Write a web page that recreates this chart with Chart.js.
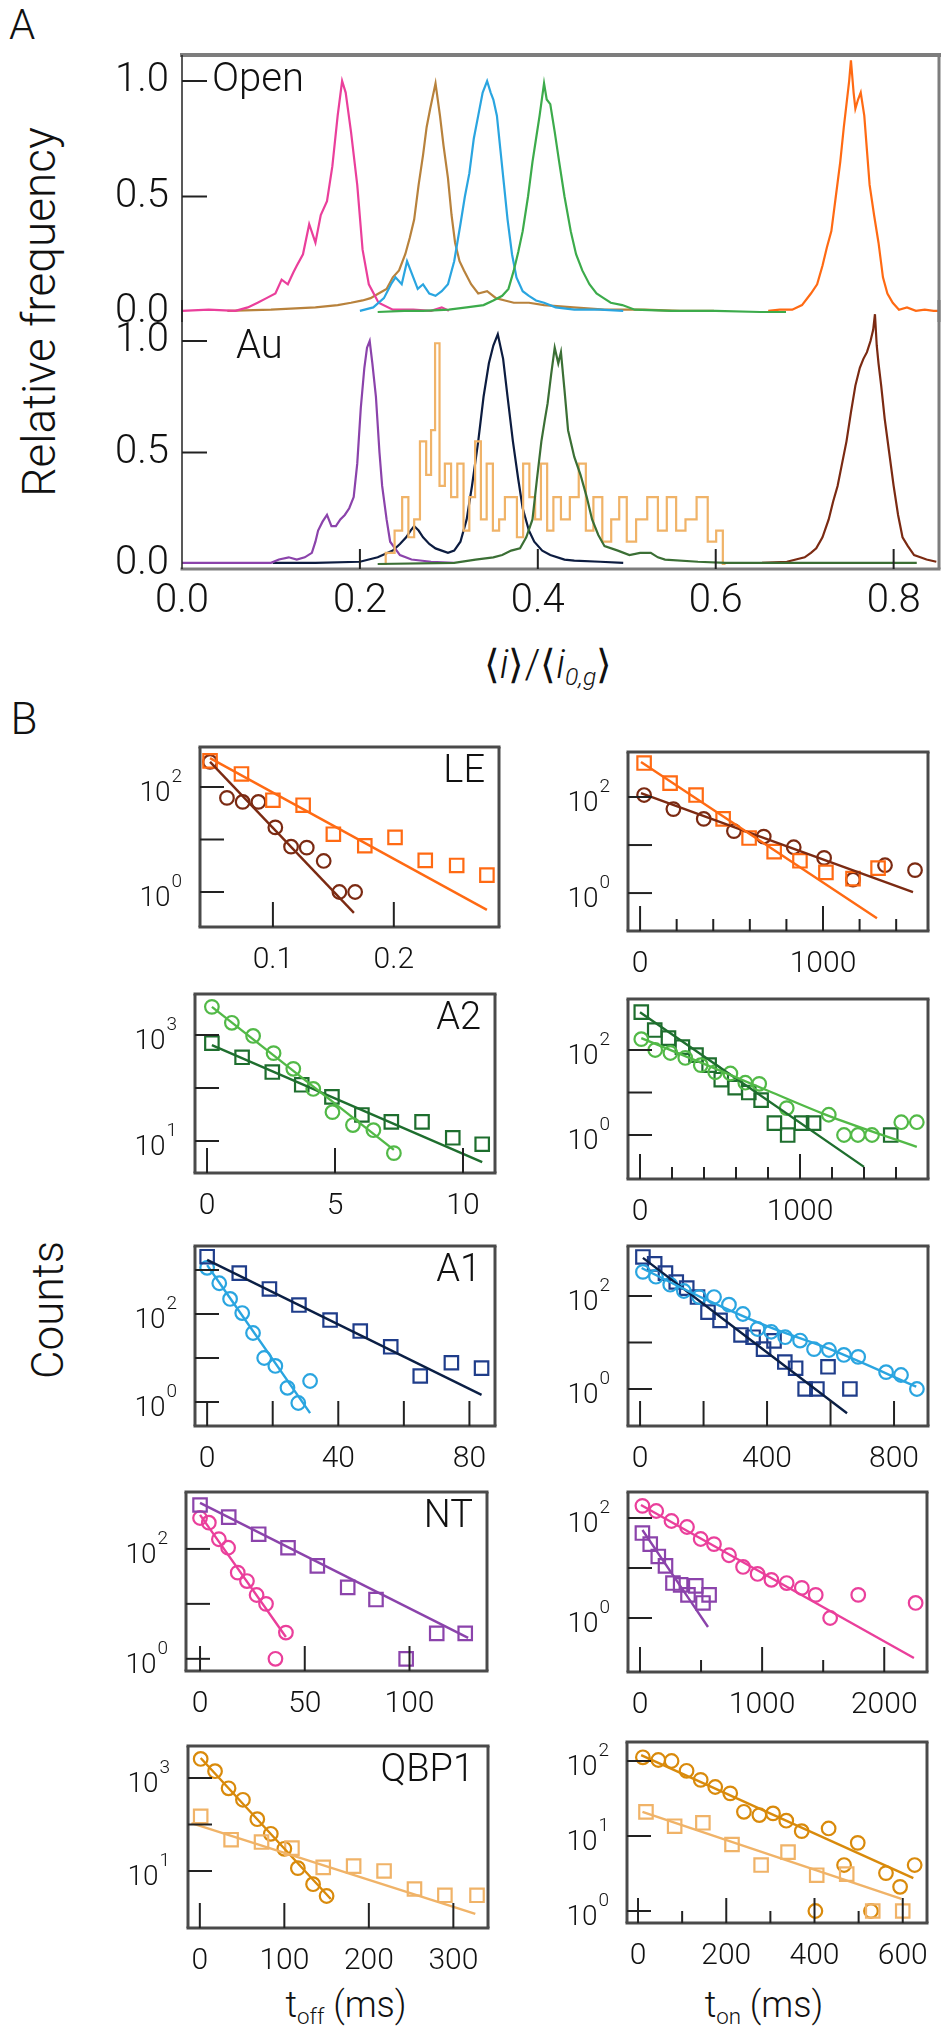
<!DOCTYPE html>
<html>
<head>
<meta charset="utf-8">
<title>Relative frequency and dwell-time histograms</title>
<script src="https://cdn.jsdelivr.net/npm/chart.js@4.4.1/dist/chart.umd.min.js"></script>
<style>
  html, body { margin: 0; padding: 0; background: #fff; }
  body { position: relative; width: 949px; height: 2040px; overflow: hidden;
         font-family: Roboto, "Liberation Sans", "DejaVu Sans", sans-serif; font-weight: 300; color: #111; }
  canvas { position: absolute; }
  .t { position: absolute; white-space: nowrap; line-height: 1; transform: translate(-50%, -50%); }
  .rot { transform: translate(-50%, -50%) rotate(-90deg); }
  sub { font-size: 62%; vertical-align: -0.3em; line-height: 0; }
  i { font-style: italic; }
</style>
</head>
<body>
<div class="t" style="left:22px;top:25px;font-size:42px">A</div>
<div class="t" style="left:24px;top:719px;font-size:44px">B</div>
<div class="t rot" style="left:39px;top:312px;font-size:46px">Relative frequency</div>
<div class="t rot" style="left:48px;top:1310px;font-size:44px">Counts</div>
<div class="t" style="left:548px;top:665px;font-size:40px">⟨<i>i</i>⟩/⟨<i>i</i><sub><i>0,g</i></sub>⟩</div>
<div class="t" style="left:346px;top:2005px;font-size:36px">t<sub>off</sub> (ms)</div>
<div class="t" style="left:764px;top:2005px;font-size:36px">t<sub>on</sub> (ms)</div>
<script>
// ---------- panel A : histograms, open pore (top) and with Au (bottom)
const openPinkX = [0, 0.03, 0.06, 0.074, 0.085, 0.095, 0.105, 0.112, 0.119, 0.125, 0.129, 0.136, 0.143, 0.150, 0.156, 0.163, 0.169, 0.175, 0.180, 0.184, 0.190, 0.197, 0.203, 0.210, 0.221, 0.237, 0.26, 0.28, 0.292, 0.30];
const openPinkY = [0.005, 0.01, 0.005, 0.02, 0.04, 0.06, 0.08, 0.14, 0.12, 0.17, 0.20, 0.25, 0.38, 0.30, 0.42, 0.48, 0.63, 0.85, 1.0, 0.95, 0.78, 0.55, 0.27, 0.12, 0.04, 0.01, 0.01, 0.005, 0.02, 0.005];
const openTanX = [0.051, 0.1, 0.15, 0.175, 0.19, 0.203, 0.212, 0.221, 0.23, 0.237, 0.244, 0.251, 0.256, 0.261, 0.266, 0.271, 0.275, 0.279, 0.285, 0.290, 0.294, 0.299, 0.303, 0.307, 0.312, 0.317, 0.325, 0.333, 0.343, 0.353, 0.363, 0.373, 0.39, 0.407, 0.44, 0.475, 0.52, 0.56, 0.598];
const openTanY = [0.005, 0.01, 0.02, 0.03, 0.04, 0.05, 0.06, 0.08, 0.1, 0.15, 0.18, 0.25, 0.32, 0.40, 0.55, 0.68, 0.8, 0.88, 0.99, 0.85, 0.72, 0.58, 0.42, 0.30, 0.22, 0.18, 0.12, 0.08, 0.09, 0.06, 0.05, 0.04, 0.04, 0.03, 0.02, 0.01, 0.01, 0.005, 0.005];
const openBlueX = [0.2, 0.215, 0.227, 0.235, 0.240, 0.247, 0.253, 0.26, 0.265, 0.271, 0.278, 0.285, 0.292, 0.299, 0.306, 0.313, 0.318, 0.323, 0.328, 0.333, 0.338, 0.343, 0.347, 0.350, 0.354, 0.358, 0.362, 0.366, 0.371, 0.376, 0.383, 0.390, 0.398, 0.407, 0.42, 0.441, 0.47, 0.496];
const openBlueY = [0.005, 0.02, 0.06, 0.12, 0.15, 0.12, 0.22, 0.15, 0.1, 0.12, 0.08, 0.07, 0.09, 0.12, 0.22, 0.38, 0.5, 0.60, 0.75, 0.85, 0.95, 1.0, 0.95, 0.92, 0.85, 0.70, 0.55, 0.40, 0.25, 0.15, 0.09, 0.07, 0.05, 0.04, 0.02, 0.01, 0.01, 0.005];
const openGreenX = [0.22, 0.25, 0.271, 0.3, 0.32, 0.339, 0.35, 0.360, 0.367, 0.373, 0.378, 0.383, 0.389, 0.394, 0.398, 0.402, 0.407, 0.410, 0.414, 0.419, 0.424, 0.430, 0.437, 0.443, 0.450, 0.458, 0.466, 0.474, 0.482, 0.495, 0.509, 0.55, 0.6, 0.65, 0.679];
const openGreenY = [0.0, 0.005, 0.005, 0.01, 0.02, 0.03, 0.05, 0.07, 0.1, 0.18, 0.26, 0.35, 0.5, 0.65, 0.75, 0.85, 0.99, 0.92, 0.90, 0.78, 0.65, 0.5, 0.35, 0.25, 0.18, 0.12, 0.08, 0.06, 0.04, 0.03, 0.01, 0.005, 0.005, 0.0, 0.0];
const openOrangeX = [0.659, 0.672, 0.686, 0.697, 0.707, 0.714, 0.720, 0.725, 0.730, 0.735, 0.740, 0.744, 0.747, 0.750, 0.752, 0.755, 0.757, 0.760, 0.763, 0.767, 0.770, 0.773, 0.778, 0.783, 0.788, 0.793, 0.799, 0.806, 0.815, 0.825, 0.835, 0.845, 0.852];
const openOrangeY = [0.005, 0.01, 0.01, 0.03, 0.08, 0.12, 0.2, 0.28, 0.35, 0.5, 0.65, 0.8, 0.9, 1.0, 1.09, 0.95, 0.88, 0.92, 0.95, 0.85, 0.7, 0.55, 0.42, 0.3, 0.15, 0.08, 0.04, 0.01, 0.02, 0.005, 0.01, 0.005, 0.005];

const auPurpleX = [0.0, 0.05, 0.1, 0.109, 0.12, 0.129, 0.138, 0.146, 0.150, 0.153, 0.158, 0.163, 0.168, 0.173, 0.178, 0.183, 0.188, 0.193, 0.197, 0.201, 0.205, 0.208, 0.211, 0.214, 0.218, 0.222, 0.225, 0.230, 0.234, 0.245, 0.258, 0.28, 0.306];
const auPurpleY = [0.005, 0.005, 0.005, 0.02, 0.03, 0.02, 0.03, 0.05, 0.10, 0.15, 0.19, 0.22, 0.17, 0.17, 0.20, 0.22, 0.25, 0.30, 0.45, 0.70, 0.88, 0.97, 1.0, 0.9, 0.75, 0.5, 0.35, 0.2, 0.1, 0.04, 0.02, 0.01, 0.005];
const auNavyX = [0.102, 0.15, 0.2, 0.22, 0.237, 0.245, 0.252, 0.257, 0.261, 0.266, 0.271, 0.278, 0.285, 0.292, 0.299, 0.306, 0.313, 0.320, 0.326, 0.333, 0.339, 0.345, 0.350, 0.355, 0.361, 0.366, 0.372, 0.378, 0.383, 0.390, 0.396, 0.405, 0.414, 0.43, 0.441, 0.47, 0.496];
const auNavyY = [0.005, 0.005, 0.01, 0.03, 0.06, 0.09, 0.12, 0.15, 0.17, 0.15, 0.12, 0.09, 0.07, 0.06, 0.05, 0.06, 0.10, 0.2, 0.35, 0.55, 0.75, 0.9, 0.98, 1.03, 0.92, 0.75, 0.55, 0.38, 0.25, 0.15, 0.10, 0.06, 0.04, 0.02, 0.015, 0.01, 0.005];
const auTanX = [0.224, 0.234, 0.244, 0.251, 0.258, 0.264, 0.271, 0.278, 0.282, 0.287, 0.292, 0.299, 0.306, 0.313, 0.320, 0.326, 0.333, 0.339, 0.346, 0.353, 0.360, 0.366, 0.373, 0.380, 0.387, 0.394, 0.400, 0.407, 0.414, 0.421, 0.431, 0.441, 0.451, 0.457, 0.468, 0.477, 0.488, 0.495, 0.505, 0.516, 0.530, 0.540, 0.550, 0.561, 0.571, 0.586, 0.596, 0.605, 0.611];
const auTanY = [0.0, 0.05, 0.15, 0.3, 0.12, 0.2, 0.55, 0.4, 0.6, 0.99, 0.35, 0.45, 0.3, 0.45, 0.15, 0.3, 0.55, 0.2, 0.45, 0.15, 0.2, 0.3, 0.3, 0.12, 0.45, 0.3, 0.2, 0.45, 0.15, 0.3, 0.2, 0.3, 0.45, 0.15, 0.3, 0.1, 0.2, 0.3, 0.1, 0.2, 0.3, 0.15, 0.3, 0.15, 0.2, 0.3, 0.1, 0.15, 0.0];
const auDkGreenX = [0.22, 0.306, 0.33, 0.35, 0.36, 0.37, 0.380, 0.387, 0.394, 0.399, 0.404, 0.408, 0.411, 0.415, 0.419, 0.423, 0.426, 0.430, 0.434, 0.441, 0.448, 0.455, 0.461, 0.468, 0.475, 0.49, 0.503, 0.515, 0.527, 0.535, 0.543, 0.58, 0.611, 0.7, 0.826];
const auDkGreenY = [0.0, 0.005, 0.02, 0.03, 0.04, 0.06, 0.07, 0.12, 0.2, 0.38, 0.55, 0.65, 0.72, 0.85, 0.97, 0.9, 0.95, 0.78, 0.6, 0.48, 0.4, 0.3, 0.2, 0.13, 0.08, 0.06, 0.04, 0.05, 0.05, 0.03, 0.02, 0.01, 0.005, 0.005, 0.005];
const auBrownX = [0.652, 0.68, 0.700, 0.707, 0.713, 0.72, 0.727, 0.732, 0.737, 0.742, 0.747, 0.752, 0.757, 0.762, 0.766, 0.770, 0.774, 0.777, 0.779, 0.781, 0.783, 0.786, 0.790, 0.795, 0.800, 0.805, 0.810, 0.816, 0.823, 0.830, 0.837, 0.848];
const auBrownY = [0.005, 0.01, 0.03, 0.05, 0.07, 0.12, 0.2, 0.28, 0.35, 0.45, 0.55, 0.68, 0.8, 0.88, 0.92, 0.95, 1.0, 1.05, 1.12, 0.98, 0.9, 0.8, 0.65, 0.5, 0.35, 0.22, 0.12, 0.08, 0.04, 0.03, 0.02, 0.01];

const histTicksX = [0, 0.2, 0.4, 0.6, 0.8];
const histTicksY = [0, 0.5, 1];

// ---------- panel B : dwell time histograms (counts, log axis)
// LE
const leOffSqX = [0.048, 0.074, 0.100, 0.125, 0.150, 0.176, 0.201, 0.226, 0.252, 0.277];
const leOffSqY = [314, 177, 56, 45, 12.6, 7.6, 11, 4, 3.2, 2.1];
const leOffCiX = [0.048, 0.062, 0.075, 0.088, 0.102, 0.115, 0.128, 0.142, 0.155, 0.168];
const leOffCiY = [300, 62, 52, 52, 17, 7.3, 7, 3.9, 1, 1];
const leOffSqFitX = [0.048, 0.277], leOffSqFitY = [355, 0.457];
const leOffCiFitX = [0.048, 0.167], leOffCiFitY = [302, 0.40];
const leOnSqX = [22, 164, 306, 454, 596, 733, 874, 1016, 1164, 1301];
const leOnSqY = [510, 195, 110, 35, 14, 7.3, 4.7, 2.7, 2.0, 3.3];
const leOnCiX = [22, 182, 348, 513, 676, 840, 1006, 1164, 1339, 1503];
const leOnCiY = [110, 56, 35, 19.5, 15, 9, 5.4, 1.9, 3.8, 3];
const leOnSqFitX = [5, 1295], leOnSqFitY = [537, 0.30];
const leOnCiFitX = [5, 1492], leOnCiFitY = [120, 1.05];
// A2
const a2OffCiX = [0.19, 0.97, 1.8, 2.6, 3.37, 4.15, 4.9, 5.7, 6.5, 7.3];
const a2OffCiY = [3400, 1700, 960, 455, 230, 96, 35, 20, 16, 5.9];
const a2OffSqX = [0.19, 1.37, 2.55, 3.7, 4.88, 6.05, 7.2, 8.4, 9.6, 10.75];
const a2OffSqY = [700, 380, 200, 115, 68, 31, 23, 23, 11.5, 8.7];
const a2OffCiFitX = [0.19, 7.3], a2OffCiFitY = [3390, 6.8];
const a2OffSqFitX = [0.19, 10.75], a2OffSqFitY = [646, 4.0];
const a2OnSqX = [8, 92, 178, 265, 350, 432, 508, 595, 680, 757, 840, 923, 1010, 1085, 1567];
const a2OnSqY = [780, 295, 190, 117, 76, 44, 20, 13, 10, 6.6, 1.9, 1, 1.9, 1.9, 1];
const a2OnCiX = [8, 95, 190, 283, 380, 470, 565, 658, 745, 917, 1180, 1275, 1362, 1450, 1633, 1730];
const a2OnCiY = [180, 100, 85, 65, 44, 30, 28, 17, 16, 4.3, 3, 1, 1, 1, 2, 2];
const a2OnSqFitX = [0, 1400], a2OnSqFitY = [776, 0.178];
const a2OnCiFitX = [8, 400, 800, 1200, 1730], a2OnCiFitY = [190, 47, 11, 2.63, 0.525];
// A1
const a1OffSqX = [0, 9.8, 19, 28, 37.5, 46.7, 56, 65, 74.5, 83.7];
const a1OffSqY = [2000, 850, 370, 160, 73, 41, 18, 3.9, 7.8, 5.9];
const a1OffCiX = [0, 3.7, 7, 10.7, 14, 17.4, 20.8, 24.5, 27.8, 31.4];
const a1OffCiY = [1120, 500, 220, 105, 37, 10, 6.6, 2.1, 0.95, 3];
const a1OffSqFitX = [0, 83.7], a1OffSqFitY = [1700, 1.45];
const a1OffCiFitX = [0, 31.4], a1OffCiFitY = [1290, 0.56];
const a1OnSqX = [9, 46, 80, 114, 147, 181, 214, 252, 318, 356, 389, 422, 456, 490, 520, 557, 592, 661];
const a1OnSqY = [690, 490, 310, 200, 148, 95, 45, 30, 14.5, 13, 7.2, 10.8, 3.8, 2.8, 1, 1, 3, 1];
const a1OnCiX = [9, 50, 95, 138, 186, 233, 280, 324, 370, 413, 457, 504, 548, 595, 642, 687, 775, 822, 872];
const a1OnCiY = [330, 260, 175, 128, 95, 95, 65, 41, 19.5, 17, 13, 11, 7.2, 6.9, 5.4, 4.9, 2.3, 2, 1];
const a1OnSqFitX = [9, 652], a1OnSqFitY = [660, 0.30];
const a1OnCiFitX = [5, 200, 400, 600, 870], a1OnCiFitY = [400, 89, 22.4, 7.1, 1.12];
// NT
const ntOffSqX = [0, 13.7, 28, 42, 56, 70.5, 84, 98.4, 113, 126.6];
const ntOffSqY = [630, 380, 185, 105, 49, 20, 12, 1, 2.9, 2.9];
const ntOffCiX = [0, 4.2, 9, 13.4, 18, 22.4, 27, 31.5, 36, 41];
const ntOffCiY = [365, 300, 150, 105, 37, 26, 14.5, 10, 1, 3];
const ntOffSqFitX = [0, 128], ntOffSqFitY = [690, 2.4];
const ntOffCiFitX = [0, 41], ntOffCiFitY = [417, 2.5];
const ntOnCiX = [20, 133, 258, 385, 497, 606, 729, 844, 963, 1076, 1201, 1325, 1439, 1557, 1787, 2257];
const ntOnCiY = [175, 138, 87, 66, 38, 30, 18, 10.5, 7.6, 5.8, 5, 4, 2.9, 1, 2.9, 2];
const ntOnSqX = [20, 84, 150, 209, 270, 333, 393, 457, 516, 566];
const ntOnSqY = [50, 30, 17, 11, 5, 4.6, 2.9, 4.4, 2, 2.9];
const ntOnCiFitX = [8, 2243], ntOnCiFitY = [182, 0.158];
const ntOnSqFitX = [20, 557], ntOnSqFitY = [57.5, 0.66];
// QBP1
const qbOffCiX = [1, 18, 34, 51, 68, 84, 100, 116, 134, 150];
const qbOffCiY = [2570, 1400, 600, 340, 130, 63, 30, 11.5, 5.2, 2.9];
const qbOffSqX = [1, 37, 73, 109, 146, 182, 218, 254, 290, 328];
const qbOffSqY = [150, 47, 42, 31, 12, 12.7, 10, 4.1, 3, 3];
const qbOffCiFitX = [1, 155], qbOffCiFitY = [2690, 2.5];
const qbOffSqFitX = [-10, 326], qbOffSqFitY = [107, 1.2];
const qbOnCiX = [11, 46, 76, 110, 142, 175, 209, 240, 275, 306, 336, 371, 402, 432, 467, 498, 528, 562, 594, 627];
const qbOnCiY = [112, 103, 100, 74, 56, 45, 37, 21, 19, 20, 16, 11.6, 1, 12.6, 4.1, 8.1, 1, 3.2, 2.1, 4.1];
const qbOnSqX = [18, 83, 147, 213, 279, 340, 405, 473, 532, 600];
const qbOnSqY = [21, 13.5, 15, 7.7, 4.1, 6.1, 3.0, 3.1, 1, 1];
const qbOnCiFitX = [7, 624], qbOnCiFitY = [120, 2.75];
const qbOnSqFitX = [10, 597], qbOnSqFitY = [21, 1.45];

const col = {
  pink: '#ea3f9b', tan: '#b8823c', sky: '#2aa5e0', green: '#3cab4b', orange: '#ff6a13',
  purple: '#8b43ab', navy: '#0c1c40', peach: '#f0b368', dkgreen: '#3b6f35', brown: '#7b2a12',
  ltgreen: '#52b947', forest: '#1e6e2e', blueSq: '#1f3d8a', blueLine: '#0b1f45',
  amber: '#d98a0b'
};

Chart.defaults.font.family = "Roboto, 'Liberation Sans', sans-serif";
Chart.defaults.font.weight = '300';
Chart.defaults.color = '#111';

// frame, inward ticks, 10^n labels and small captions
Chart.register({
  id: 'decor',
  afterDraw(chart, args, o) {
    if (!o || !o.on) return;
    const ctx = chart.ctx, a = chart.chartArea;
    const xs = chart.scales.x, ys = chart.scales.y;
    ctx.save();
    (o.sides || []).forEach(s => {
      ctx.strokeStyle = s.c; ctx.lineWidth = s.w;
      ctx.beginPath();
      if (s.s == 'top') { ctx.moveTo(a.left - s.w / 2, a.top); ctx.lineTo(a.right + s.w / 2, a.top); }
      if (s.s == 'bottom') { ctx.moveTo(a.left - s.w / 2, a.bottom); ctx.lineTo(a.right + s.w / 2, a.bottom); }
      if (s.s == 'left') { ctx.moveTo(a.left, a.top); ctx.lineTo(a.left, a.bottom); }
      if (s.s == 'right') { ctx.moveTo(a.right, a.top); ctx.lineTo(a.right, a.bottom); }
      ctx.stroke();
    });
    ctx.strokeStyle = '#222'; ctx.lineWidth = 2;
    (o.xTicks || []).forEach(t => {
      const px = xs.getPixelForValue(t[0]);
      ctx.beginPath(); ctx.moveTo(px, a.bottom); ctx.lineTo(px, a.bottom - t[1]); ctx.stroke();
    });
    (o.yTicks || []).forEach(t => {
      const py = ys.getPixelForValue(t[0]);
      ctx.beginPath(); ctx.moveTo(a.left, py); ctx.lineTo(a.left + t[1], py); ctx.stroke();
    });
    ctx.fillStyle = '#111';
    (o.exps || []).forEach(e => {
      const py = ys.getPixelForValue(Math.pow(10, e));
      ctx.textBaseline = 'middle'; ctx.textAlign = 'right';
      ctx.font = "300 19px Roboto, 'Liberation Sans', sans-serif";
      const ew = ctx.measureText(String(e)).width;
      ctx.fillText(String(e), a.left - 18, py - 10);
      ctx.font = "300 28px Roboto, 'Liberation Sans', sans-serif";
      ctx.fillText('10', a.left - 19 - ew, py + 7);
    });
    if (o.tag) {
      ctx.font = "300 38px Roboto, 'Liberation Sans', sans-serif";
      ctx.textAlign = 'right'; ctx.textBaseline = 'top';
      ctx.fillText(o.tag, a.right - 14, a.top + 6);
    }
    (o.notes || []).forEach(n => {
      ctx.font = "300 40px Roboto, 'Liberation Sans', sans-serif";
      ctx.textAlign = 'left'; ctx.textBaseline = 'middle';
      ctx.fillText(n.text, a.left + n.dx, ys.getPixelForValue(n.yv));
    });
    ctx.restore();
  }
});

function makeCanvas(left, top, w, h) {
  const c = document.createElement('canvas');
  c.width = w; c.height = h;
  c.style.left = left + 'px'; c.style.top = top + 'px';
  c.style.width = w + 'px'; c.style.height = h + 'px';
  document.body.appendChild(c);
  return c;
}

function pts(xs, ys) { return xs.map((x, i) => ({ x: x, y: ys[i] })); }

function trace(xs, ys, color, stepped) {
  return { data: pts(xs, ys), showLine: true, borderColor: color, borderWidth: 2.2,
           pointRadius: 0, stepped: stepped ? 'middle' : false, fill: false };
}
function marks(xs, ys, color, shape) {
  return { data: pts(xs, ys), showLine: false, pointStyle: shape,
           pointRadius: shape == 'rect' ? 9.5 : 6.8, pointBorderWidth: 2.2,
           pointBorderColor: color, pointBackgroundColor: 'rgba(0,0,0,0)',
           borderColor: color, backgroundColor: 'rgba(0,0,0,0)', clip: false };
}
function fit(xs, ys, color) {
  return { data: pts(xs, ys), showLine: true, borderColor: color, borderWidth: 2.4,
           pointRadius: 0, cubicInterpolationMode: 'monotone', fill: false };
}

// ---------- panel A charts (two overlapping canvases sharing the x range)
const gray = '#7d7d7d';
function histAxisY(min, max) {
  return {
    type: 'linear', min: min, max: max,
    afterFit: s => { s.width = 182; },
    afterBuildTicks: s => { s.ticks = histTicksY.map(v => ({ value: v })); },
    grid: { display: false, drawTicks: false }, border: { display: false },
    ticks: { font: { size: 40 }, padding: 13, callback: v => v.toFixed(1) }
  };
}

new Chart(makeCanvas(0, 0, 949, 700), {
  type: 'scatter',
  data: { datasets: [
    trace(openGreenX, openGreenY, col.green),
    trace(openBlueX, openBlueY, col.sky),
    trace(openPinkX, openPinkY, col.pink),
    trace(openTanX, openTanY, col.tan),
    trace(openOrangeX, openOrangeY, col.orange)
  ] },
  options: {
    responsive: false, animation: false, events: [],
    layout: { padding: { left: 0, top: 55, right: 10, bottom: 378 } },
    plugins: { legend: { display: false }, tooltip: { enabled: false },
      decor: { on: true,
        sides: [{ s: 'top', c: gray, w: 4 }, { s: 'right', c: gray, w: 3 }, { s: 'left', c: '#222', w: 1.5 }],
        yTicks: [[0.5, 25], [1, 25]],
        notes: [{ text: 'Open', dx: 30, yv: 1.0 }] } },
    scales: {
      x: { type: 'linear', display: false, min: 0, max: 0.851 },
      y: histAxisY(-0.0433, 1.1126)
    }
  }
});

new Chart(makeCanvas(0, 0, 949, 700), {
  type: 'scatter',
  data: { datasets: [
    trace(auDkGreenX, auDkGreenY, col.dkgreen),
    trace(auTanX, auTanY, col.peach, true),
    trace(auPurpleX, auPurpleY, col.purple),
    trace(auNavyX, auNavyY, col.navy),
    trace(auBrownX, auBrownY, col.brown)
  ] },
  options: {
    responsive: false, animation: false, events: [],
    layout: { padding: { left: 0, top: 300, right: 10, bottom: 71 } },
    plugins: { legend: { display: false }, tooltip: { enabled: false },
      decor: { on: true,
        sides: [{ s: 'bottom', c: gray, w: 3 }, { s: 'right', c: gray, w: 3 }, { s: 'left', c: '#222', w: 1.5 }],
        yTicks: [[0.5, 25], [1, 25]],
        xTicks: [[0.2, 20], [0.4, 20], [0.6, 20], [0.8, 20]],
        notes: [{ text: 'Au', dx: 54, yv: 0.97 }] } },
    scales: {
      x: { type: 'linear', min: 0, max: 0.851,
           afterFit: s => { s.height = 60; },
           afterBuildTicks: s => { s.ticks = histTicksX.map(v => ({ value: v })); },
           grid: { display: false, drawTicks: false }, border: { display: false },
           ticks: { font: { size: 40 }, padding: 9, maxRotation: 0, autoSkip: false, callback: v => v.toFixed(1) } },
      y: histAxisY(-0.0224, 1.1839)
    }
  }
});

// ---------- panel B charts
function dwellPlot(p) {
  const L = p.frame[0], T = p.frame[1], R = p.frame[2], B = p.frame[3];
  const padL = 120, padT = 20, padR = 20, axH = 62;
  const cv = makeCanvas(L - padL, T - padT, R - L + padL + padR, B - T + padT + axH);
  const box = ['top', 'right', 'bottom', 'left'].map(s => ({ s: s, c: '#4a4a4a', w: 3 }));
  const xt = p.major.map(v => [v, 25]).concat((p.minor || []).map(v => [v, 12]));
  new Chart(cv, {
    type: 'scatter',
    data: { datasets: p.sets },
    options: {
      responsive: false, animation: false, events: [],
      layout: { padding: { left: padL, top: padT, right: padR, bottom: 0 } },
      plugins: { legend: { display: false }, tooltip: { enabled: false },
        decor: { on: true, sides: box, xTicks: xt, yTicks: p.decades.map(v => [v, 24]),
                 exps: p.exps, tag: p.tag } },
      scales: {
        x: { type: 'linear', min: p.xr[0], max: p.xr[1],
             afterFit: s => { s.height = axH; },
             afterBuildTicks: s => { s.ticks = p.xl.map(v => ({ value: v })); },
             grid: { display: false, drawTicks: false }, border: { display: false },
             ticks: { font: { size: 30 }, padding: 15, maxRotation: 0, autoSkip: false, callback: v => String(v) } },
        y: { type: 'logarithmic', display: false, min: p.yr[0], max: p.yr[1] }
      }
    }
  });
}

dwellPlot({ frame: [200, 747, 499, 927], xr: [0.0397, 0.287], yr: [0.2153, 578.1], tag: 'LE',
  xl: [0.1, 0.2], major: [0.1, 0.2], decades: [1, 10, 100], exps: [0, 2],
  sets: [fit(leOffSqFitX, leOffSqFitY, col.orange), fit(leOffCiFitX, leOffCiFitY, col.brown),
         marks(leOffSqX, leOffSqY, col.orange, 'rect'), marks(leOffCiX, leOffCiY, col.brown, 'circle')] });
dwellPlot({ frame: [628, 752, 928, 931], xr: [-66, 1574], yr: [0.1622, 865.9],
  xl: [0, 1000], major: [0, 1000], minor: [200, 400, 600, 800, 1200, 1400], decades: [1, 10, 100], exps: [0, 2],
  sets: [fit(leOnSqFitX, leOnSqFitY, col.orange), fit(leOnCiFitX, leOnCiFitY, col.brown),
         marks(leOnSqX, leOnSqY, col.orange, 'rect'), marks(leOnCiX, leOnCiY, col.brown, 'circle')] });

dwellPlot({ frame: [195, 994, 495, 1173], xr: [-0.47, 11.25], yr: [2.489, 5943], tag: 'A2',
  xl: [0, 5, 10], major: [0, 5, 10], decades: [10, 100, 1000], exps: [1, 3],
  sets: [fit(a2OffCiFitX, a2OffCiFitY, col.ltgreen), fit(a2OffSqFitX, a2OffSqFitY, col.forest),
         marks(a2OffCiX, a2OffCiY, col.ltgreen, 'circle'), marks(a2OffSqX, a2OffSqY, col.forest, 'rect')] });
dwellPlot({ frame: [628, 999, 928, 1179], xr: [-75, 1800], yr: [0.0923, 1585],
  xl: [0, 1000], major: [0, 1000], minor: [200, 400, 600, 800, 1200, 1400, 1600], decades: [1, 10, 100], exps: [0, 2],
  sets: [fit(a2OnCiFitX, a2OnCiFitY, col.ltgreen), fit(a2OnSqFitX, a2OnSqFitY, col.forest),
         marks(a2OnCiX, a2OnCiY, col.ltgreen, 'circle'), marks(a2OnSqX, a2OnSqY, col.forest, 'rect')] });

dwellPlot({ frame: [195, 1246, 495, 1426], xr: [-3.7, 87.8], yr: [0.2851, 3508], tag: 'A1',
  xl: [0, 40, 80], major: [0, 20, 40, 60, 80], decades: [1, 10, 100, 1000], exps: [0, 2],
  sets: [fit(a1OffSqFitX, a1OffSqFitY, col.blueLine), fit(a1OffCiFitX, a1OffCiFitY, col.sky),
         marks(a1OffSqX, a1OffSqY, col.blueSq, 'rect'), marks(a1OffCiX, a1OffCiY, col.sky, 'circle')] });
dwellPlot({ frame: [628, 1246, 928, 1426], xr: [-38, 907], yr: [0.16, 1189],
  xl: [0, 400, 800], major: [0, 200, 400, 600, 800], decades: [1, 10, 100], exps: [0, 2],
  sets: [fit(a1OnCiFitX, a1OnCiFitY, col.sky), fit(a1OnSqFitX, a1OnSqFitY, col.blueLine),
         marks(a1OnCiX, a1OnCiY, col.sky, 'circle'), marks(a1OnSqX, a1OnSqY, col.blueSq, 'rect')] });

dwellPlot({ frame: [186, 1492, 487, 1671], xr: [-6.7, 137], yr: [0.6053, 1086], tag: 'NT',
  xl: [0, 50, 100], major: [0, 50, 100], decades: [1, 10, 100], exps: [0, 2],
  sets: [fit(ntOffSqFitX, ntOffSqFitY, col.purple), fit(ntOffCiFitX, ntOffCiFitY, col.pink),
         marks(ntOffSqX, ntOffSqY, col.purple, 'rect'), marks(ntOffCiX, ntOffCiY, col.pink, 'circle')] });
dwellPlot({ frame: [628, 1492, 927, 1672], xr: [-98, 2350], yr: [0.0832, 331.1],
  xl: [0, 1000, 2000], major: [0, 1000, 2000], minor: [500, 1500], decades: [1, 10, 100], exps: [0, 2],
  sets: [fit(ntOnCiFitX, ntOnCiFitY, col.pink), fit(ntOnSqFitX, ntOnSqFitY, col.purple),
         marks(ntOnCiX, ntOnCiY, col.pink, 'circle'), marks(ntOnSqX, ntOnSqY, col.purple, 'rect')] });

dwellPlot({ frame: [188, 1746, 488, 1928], xr: [-14, 341], yr: [0.5943, 4875], tag: 'QBP1',
  xl: [0, 100, 200, 300], major: [0, 100, 200, 300], decades: [10, 100, 1000], exps: [1, 3],
  sets: [fit(qbOffSqFitX, qbOffSqFitY, col.peach), fit(qbOffCiFitX, qbOffCiFitY, col.amber),
         marks(qbOffSqX, qbOffSqY, col.peach, 'rect'), marks(qbOffCiX, qbOffCiY, col.amber, 'circle')] });
dwellPlot({ frame: [627, 1742, 927, 1923], xr: [-25, 655], yr: [0.6918, 179.1],
  xl: [0, 200, 400, 600], major: [0, 200, 400, 600], minor: [100, 300, 500], decades: [1, 10, 100], exps: [0, 1, 2],
  sets: [fit(qbOnSqFitX, qbOnSqFitY, col.peach), fit(qbOnCiFitX, qbOnCiFitY, col.amber),
         marks(qbOnSqX, qbOnSqY, col.peach, 'rect'), marks(qbOnCiX, qbOnCiY, col.amber, 'circle')] });
</script>
</body>
</html>
